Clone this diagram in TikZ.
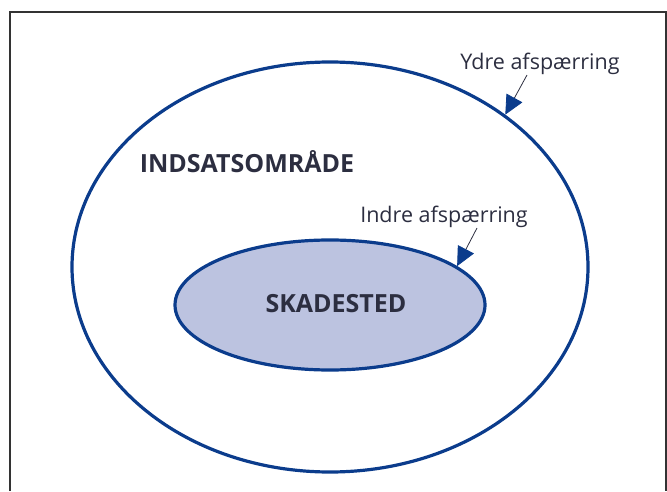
\documentclass[tikz,border=0pt]{standalone}
\usepackage{fontspec}
\setmainfont{Open Sans}
\usetikzlibrary{shapes.geometric,arrows.meta}
\definecolor{zoneblue}{HTML}{0B3C8C}
\definecolor{zonefill}{HTML}{BCC3E0}
\definecolor{labelgray}{HTML}{2C2E40}
\begin{document}
\begin{tikzpicture}[x=1pt, y=1pt,
    zone/.style={draw=zoneblue, ellipse, line width=3.2pt, inner sep=0pt},
    caption/.style={text=labelgray, font=\fontsize{21.5}{24}\selectfont, inner sep=0pt},
    title/.style={text=labelgray, font=\bfseries\fontsize{25}{28}\selectfont},
    pointer/.style={-{Triangle[length=19pt, width=18pt, color=zoneblue]}, draw=labelgray, line width=0.8pt}]
            \useasboundingbox (0,0) rectangle (667,491);
            % frame
            \draw[line width=1.5pt, black!80] (10,0) -- (10,479) -- (666,479) -- (666,0);
            % zones
            \node[zone, minimum width=516, minimum height=410] (outer) at (330,224) {};
            \node[zone, fill=zonefill, minimum width=310, minimum height=130] (inner) at (330,186) {};
            \node[title] (area) at (247,329) {INDSATSOMRÅDE};
            \node[title] (site) at (336,187) {SKADESTED};
            % labels
            \node[caption] (ydre) at (540,427) {Ydre afspærring};
            \node[caption] (indre) at (444,274) {Indre afspærring};
            \draw [pointer] ([xshift=-13]ydre.south) -- (outer.41);
            \draw [pointer] ([xshift=33]indre.south) -- (inner.17);
        \end{tikzpicture}
\end{document}
